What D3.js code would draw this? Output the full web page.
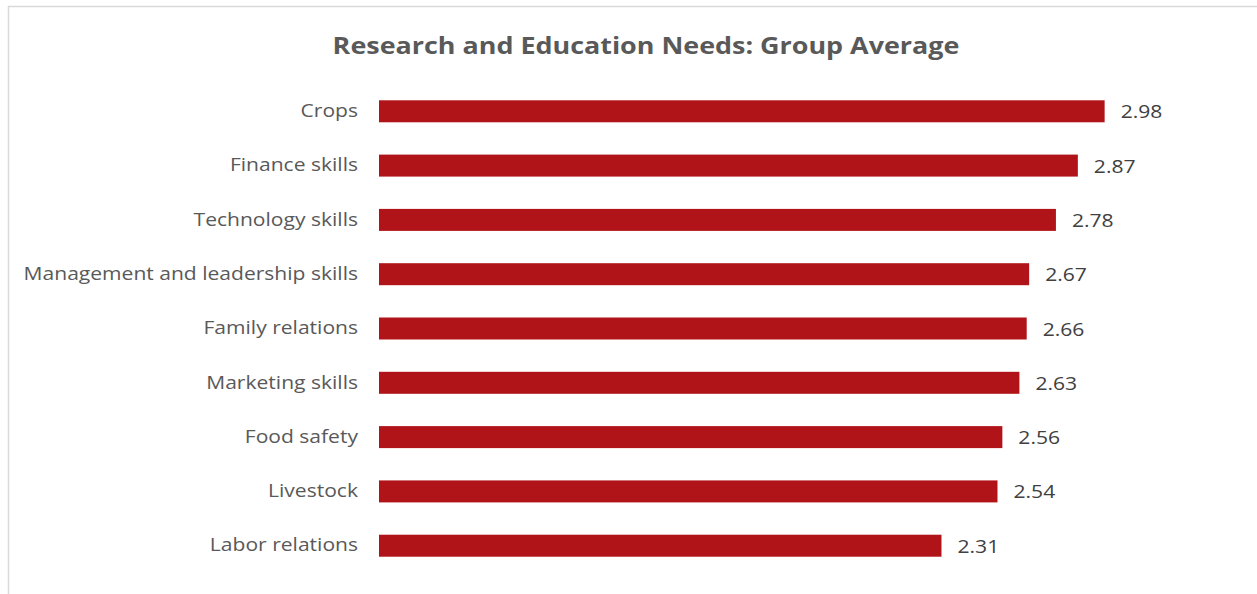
<!DOCTYPE html>
<html>
<head>
<meta charset="utf-8">
<script src="https://cdn.jsdelivr.net/npm/d3@7"></script>
<style>
  html, body { margin: 0; padding: 0; background: #fff; }
  svg { display: block; }
</style>
</head>
<body>
<svg id="chart" width="1257" height="594"></svg>
<script>
// Survey topics and their group average scores
const categories = [
  "Crops",
  "Finance skills",
  "Technology skills",
  "Management and leadership skills",
  "Family relations",
  "Marketing skills",
  "Food safety",
  "Livestock",
  "Labor relations"
];
const averages = [2.98, 2.87, 2.78, 2.67, 2.66, 2.63, 2.56, 2.54, 2.31];
const title = "Research and Education Needs: Group Average";

const svg = d3.select("#chart");
const W = 1257, H = 594;
const font = "'Open Sans', sans-serif";
const stretch = 1.17; // text is set slightly wide

// light frame around the chart area
svg.append("rect")
  .attr("x", 8.5).attr("y", 6.5)
  .attr("width", W + 10).attr("height", H + 10)
  .attr("fill", "#fff")
  .attr("stroke", "#d9d9d9").attr("stroke-width", 1.5);

svg.append("text")
  .attr("transform", `translate(646,54) scale(${stretch},1)`)
  .attr("text-anchor", "middle")
  .attr("font-family", font)
  .attr("font-weight", "bold")
  .attr("font-size", 23)
  .attr("fill", "#595959")
  .text(title);

const x = d3.scaleLinear().domain([0, 3.5]).range([379, 379 + 243.5 * 3.5]);
const y = d3.scaleBand().domain(categories).range([84, 573]).paddingInner(0.595).paddingOuter(0.3);

const data = categories.map((c, i) => ({ c, v: averages[i] }));

svg.append("g").selectAll("rect")
  .data(data).join("rect")
  .attr("x", x(0))
  .attr("y", d => y(d.c))
  .attr("width", d => x(d.v) - x(0))
  .attr("height", y.bandwidth())
  .attr("fill", "#b01418");

// category labels on the left
const yAxis = d3.axisLeft(y).tickSize(0).tickPadding(21);
const ax = svg.append("g").attr("transform", `translate(${x(0)},0)`).call(yAxis);
ax.select(".domain").remove();
ax.selectAll("text")
  .attr("x", -21 / stretch)
  .attr("transform", `scale(${stretch},1)`)
  .attr("font-family", font)
  .attr("font-size", 18)
  .attr("fill", "#595959");

// value labels at bar ends
svg.append("g").selectAll("text")
  .data(data).join("text")
  .attr("transform", d => `translate(${x(d.v) + 16},${y(d.c) + y.bandwidth() / 2}) scale(1.14,1)`)
  .attr("dy", "0.38em")
  .attr("font-family", font)
  .attr("font-size", 18.5)
  .attr("fill", "#404040")
  .text(d => d.v.toFixed(2));
</script>
</body>
</html>
